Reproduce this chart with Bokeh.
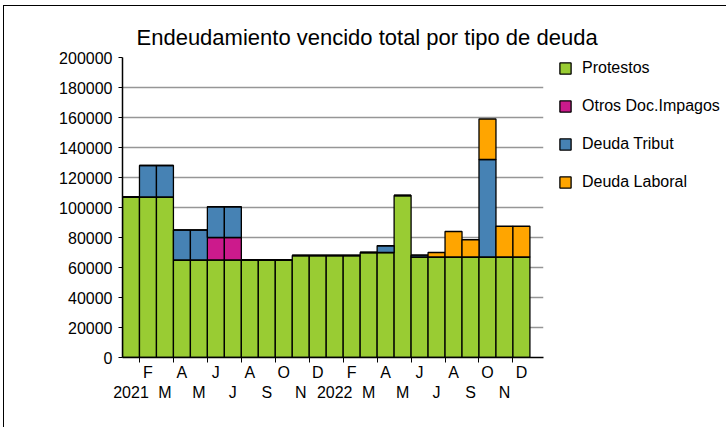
from bokeh.plotting import figure
from bokeh.models import (ColumnDataSource, FixedTicker, LinearAxis, Legend,
                          LegendItem, Range1d, BasicTickFormatter)
from bokeh.embed import file_html
from bokeh.resources import INLINE

# ---- data -------------------------------------------------------------
months = ["2021-01", "2021-02", "2021-03", "2021-04", "2021-05", "2021-06",
          "2021-07", "2021-08", "2021-09", "2021-10", "2021-11", "2021-12",
          "2022-01", "2022-02", "2022-03", "2022-04", "2022-05", "2022-06",
          "2022-07", "2022-08", "2022-09", "2022-10", "2022-11", "2022-12"]
top_row_labels = ["F", "A", "J", "A", "O", "D", "F", "A", "J", "A", "O", "D"]
bottom_row_labels = ["2021", "M", "M", "J", "S", "N", "2022", "M", "M", "J", "S", "N"]

protestos = [107000, 107000, 107000, 65000, 65000, 65000, 65000, 65000, 65000, 65000,
             68000, 68000, 68000, 68000, 70000, 70000, 108000, 67000, 67000, 67000,
             67000, 67000, 67000, 67000]
otros_doc = [0, 0, 0, 0, 0, 15000, 15000, 0, 0, 0, 0, 0,
             0, 0, 0, 0, 0, 0, 0, 0, 0, 0, 0, 0]
deuda_tribut = [0, 21000, 21000, 20000, 20000, 20500, 20500, 0, 0, 0, 0, 0,
                0, 0, 0, 4500, 0, 1200, 0, 0, 0, 65000, 0, 0]
deuda_laboral = [0, 0, 0, 0, 0, 0, 0, 0, 0, 0, 0, 0,
                 0, 0, 0, 0, 0, 0, 3000, 17000, 11500, 27000, 20500, 20500]

series_names = ["Protestos", "Otros Doc.Impagos", "Deuda Tribut", "Deuda Laboral"]
series_keys = ["protestos", "otros", "tribut", "laboral"]
colors = ["#99CC33", "#CC1A8C", "#4682B4", "#FFA500"]

title_text = "Endeudamiento vencido total por tipo de deuda"
FONT = "Liberation Sans"

# ---- figure -----------------------------------------------------------
n = len(months)
xs = list(range(n))
source = ColumnDataSource(dict(x=xs, protestos=protestos, otros=otros_doc,
                               tribut=deuda_tribut, laboral=deuda_laboral))

p = figure(frame_width=421, frame_height=300, output_backend="svg", toolbar_location=None,
           x_range=Range1d(-0.5, 24.3), y_range=Range1d(0, 200000))
p.min_border_left = 118
p.min_border_right = 180
p.min_border_top = 51
p.min_border_bottom = 70
p.outline_line_color = None
p.background_fill_color = "white"
p.border_fill_color = "white"
p.styles = {"margin-left": "3px", "margin-top": "5px",
            "border-left": "1px solid #000", "border-top": "1px solid #000",
            "border-right": "1px solid #000"}

p.title.text = title_text
p.title.text_font = FONT
p.title.text_font_size = "22px"
p.title.text_font_style = "normal"
p.title.text_color = "black"
p.title.align = "left"
p.title.offset = 14
p.title.standoff = 15

renderers = p.vbar_stack(series_keys, x="x", width=1.0, color=colors,
                         line_color="black", line_width=1.3, source=source)

# y axis
p.yaxis.formatter = BasicTickFormatter(use_scientific=False)
p.yaxis.ticker = FixedTicker(ticks=list(range(0, 200001, 20000)))
p.yaxis.axis_line_color = "black"
p.yaxis.axis_line_width = 1.5
p.yaxis.major_tick_out = 4
p.yaxis.major_tick_in = 0
p.yaxis.major_tick_line_color = "black"
p.yaxis.minor_tick_line_color = None
p.yaxis.major_label_text_font = FONT
p.yaxis.major_label_text_font_size = "16px"
p.yaxis.major_label_text_color = "black"
p.yaxis.major_label_standoff = 6

p.ygrid.grid_line_color = "#969696"
p.ygrid.grid_line_width = 1.6
p.ygrid.ticker = FixedTicker(ticks=list(range(20000, 200001, 20000)))
p.xgrid.grid_line_color = None

# x axis: top row of labels + boundary ticks
odd_idx = xs[1::2]
even_idx = xs[0::2]
ax1 = p.xaxis[0]
ax1.ticker = FixedTicker(ticks=odd_idx, minor_ticks=[i + 0.5 for i in even_idx])
ax1.major_label_overrides = {i: lab for i, lab in zip(odd_idx, top_row_labels)}
ax1.axis_line_color = "black"
ax1.axis_line_width = 1.5
ax1.major_tick_line_color = None
ax1.major_tick_out = 0
ax1.major_tick_in = 0
ax1.minor_tick_line_color = "black"
ax1.minor_tick_out = 5
ax1.minor_tick_in = 0
ax1.major_label_text_font = FONT
ax1.major_label_text_font_size = "16px"
ax1.major_label_text_color = "black"
ax1.major_label_standoff = 1

ax2 = LinearAxis(ticker=FixedTicker(ticks=even_idx, minor_ticks=[]),
                 major_label_overrides={i: lab for i, lab in zip(even_idx, bottom_row_labels)})
ax2.axis_line_color = None
ax2.major_tick_line_color = None
ax2.minor_tick_line_color = None
ax2.major_tick_out = 0
ax2.major_tick_in = 0
ax2.major_label_text_font = FONT
ax2.major_label_text_font_size = "16px"
ax2.major_label_text_color = "black"
ax2.major_label_standoff = 0
p.add_layout(ax2, "below")

# legend (right side panel)
items = [LegendItem(label=name, renderers=[r]) for name, r in zip(series_names, renderers)]
legend = Legend(items=items, location=(15, 166), orientation="vertical")
legend.label_text_font = FONT
legend.label_text_font_size = "16px"
legend.label_text_color = "black"
legend.glyph_width = 14
legend.glyph_height = 14
legend.label_standoff = 10
legend.spacing = 20
legend.padding = 0
legend.margin = 0
legend.border_line_color = None
legend.background_fill_alpha = 0
p.add_layout(legend, "right")

open("out.html", "w").write(file_html(p, INLINE))
